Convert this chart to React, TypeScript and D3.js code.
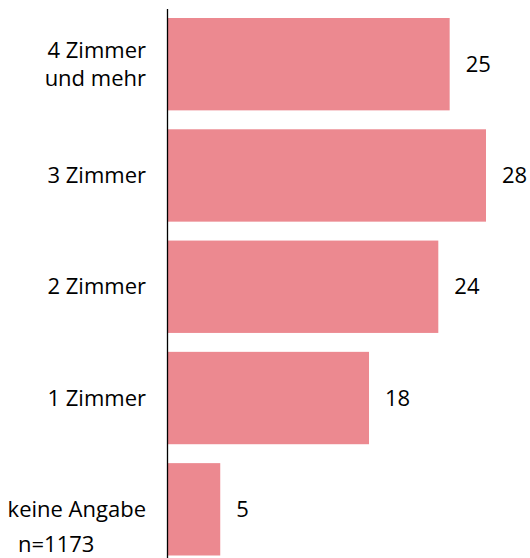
import React from "react";
import * as d3 from "d3";

const categories: string[][] = [
  ["4 Zimmer", "und mehr"],
  ["3 Zimmer"],
  ["2 Zimmer"],
  ["1 Zimmer"],
  ["keine Angabe"],
];
const values: number[] = [24.8, 28.0, 23.8, 17.7, 4.6];
const valueLabels: string[] = ["25", "28", "24", "18", "5"];
const note = "n=1173";

const W = 530;
const H = 558;
const axisX = 167.5;
const barX = 168;
const FONT = "'Open Sans', sans-serif";
const FS = 22;

export default function App() {
  const keys = categories.map((c) => c.join(" "));
  const y = d3.scaleBand<string>().domain(keys).range([18, 555.5]).paddingInner(0.17).paddingOuter(0);
  const x = d3.scaleLinear().domain([0, 28]).range([barX, 486]);

  return (
    <svg width={W} height={H} style={{ position: "absolute", left: 0, top: 0 }} fontFamily={FONT}>
      {keys.map((k, i) => {
        const y0 = y(k)!;
        const bh = y.bandwidth();
        const cy = y0 + bh / 2;
        const lines = categories[i];
        return (
          <g key={k}>
            <rect x={x(0)} y={y0} width={x(values[i]) - x(0)} height={bh} fill="#ec8990" />
            <text x={x(values[i]) + 16} y={cy} dy="0.35em" fontSize={FS} fill="#000">
              {valueLabels[i]}
            </text>
            {lines.map((ln, j) => (
              <text
                key={j}
                x={146}
                y={cy + (j - (lines.length - 1) / 2) * 28}
                dy="0.35em"
                textAnchor="end"
                fontSize={FS}
                fill="#000"
              >
                {ln}
              </text>
            ))}
          </g>
        );
      })}
      <line x1={axisX} x2={axisX} y1={9} y2={H} stroke="#000" strokeWidth={1.3} />
      <text x={18} y={552} fontSize={FS} fill="#000">{note}</text>
    </svg>
  );
}
